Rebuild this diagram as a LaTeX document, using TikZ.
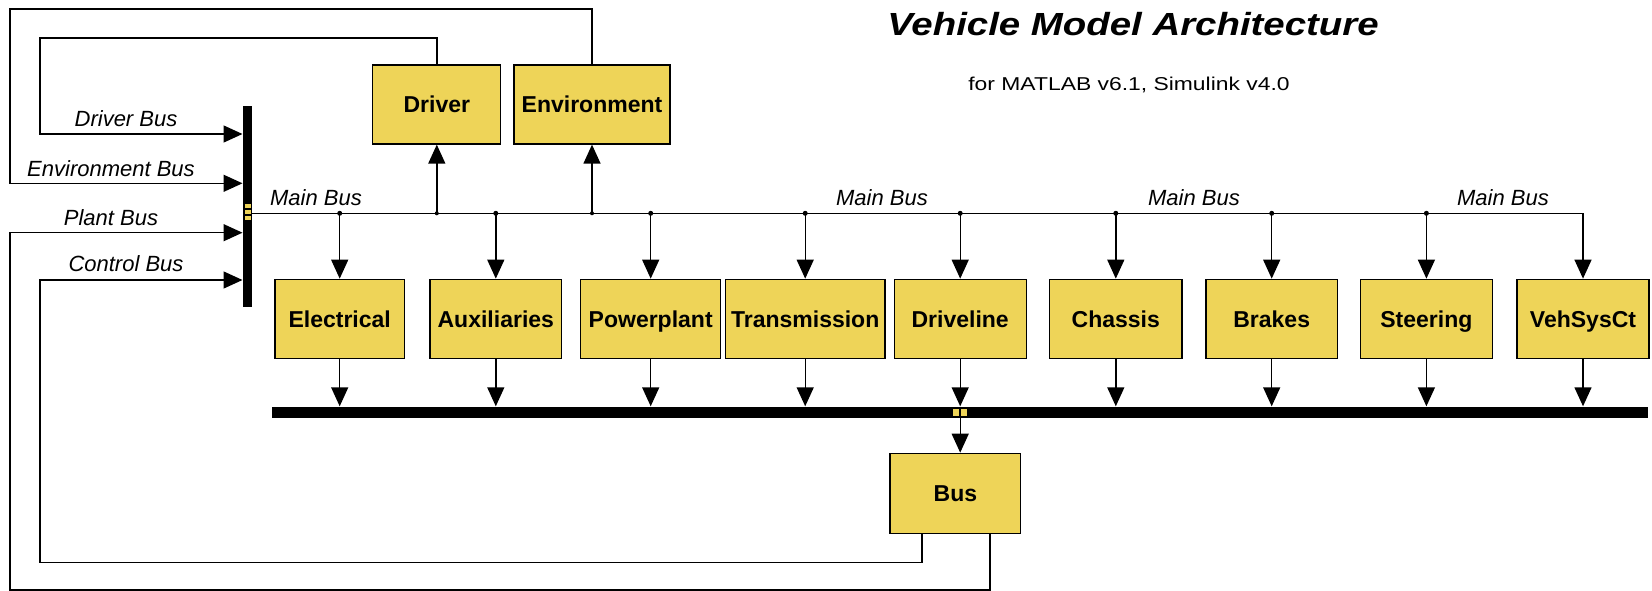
\documentclass[tikz,border=0pt]{standalone}
\usepackage{fontspec}
\setmainfont{Liberation Sans}
\usetikzlibrary{arrows.meta}
\definecolor{blkyellow}{RGB}{238,212,88}
\tikzset{
  blk/.style={draw=black, line width=1.3pt, fill=blkyellow, inner sep=0pt, minimum height=79pt,
    text height=16.5pt, text depth=0pt,
    font=\fontsize{23}{27}\selectfont\bfseries},
  wire/.style={draw=black, line width=1.4pt},
  arr/.style={wire, -{Triangle[length=19pt,width=17pt]}},
  lbl/.style={anchor=base, inner sep=0pt, font=\fontsize{22}{26}\selectfont\itshape},
  bar/.style={fill=black, draw=none, inner sep=0pt},
  jdot/.style={fill=black, draw=none, circle, minimum size=5pt, inner sep=0pt},
  port/.style={fill=blkyellow, draw=none}
}
\begin{document}
\begin{tikzpicture}[x=1pt,y=-1pt]
\useasboundingbox[fill=white] (0,0) rectangle (1652,591);

% title
\node[anchor=base, inner sep=0pt] (title) at (1133,36)
  {\scalebox{1.2}[1]{\fontsize{32}{38}\selectfont\bfseries\itshape Vehicle Model Architecture}};
\node[anchor=base, inner sep=0pt] (subtitle) at (1129,90.5)
  {\scalebox{1.23}[1]{\fontsize{18.6}{22}\selectfont for MATLAB v6.1, Simulink v4.0}};

% top blocks
\node[blk, minimum width=128pt] (Driver) at (436.8,104.5) {Driver};
\node[blk, minimum width=156pt] (Environment) at (592,104.5) {Environment};

% row of blocks
\node[blk, minimum width=129.3pt] (Electrical) at (339.7,318.8) {Electrical};
\node[blk, minimum width=131.7pt] (Auxiliaries) at (495.8,318.8) {Auxiliaries};
\node[blk, minimum width=140pt] (Powerplant) at (650.7,318.8) {Powerplant};
\node[blk, minimum width=159.5pt] (Transmission) at (805.2,318.8) {Transmission};
\node[blk, minimum width=132pt] (Driveline) at (960.2,318.8) {Driveline};
\node[blk, minimum width=132.4pt] (Chassis) at (1115.8,318.8) {Chassis};
\node[blk, minimum width=131.4pt] (Brakes) at (1271.7,318.8) {Brakes};
\node[blk, minimum width=132pt] (Steering) at (1426.4,318.8) {Steering};
\node[blk, minimum width=132pt] (VehSysCt) at (1583,318.8) {VehSysCt};

\node[blk, minimum width=130.7pt, minimum height=80pt] (Bus) at (955.4,493.3) {Bus};

% bus bars
\node[bar, minimum width=9pt, minimum height=201pt] (mux) at (247.8,206.5) {};
\node[bar, minimum width=1376pt, minimum height=11pt] (busbar) at (960,412) {};
\fill[port] (245,204) rectangle (250.6,208.4);
\fill[port] (245,209.8) rectangle (250.6,214.2);
\fill[port] (245,215.6) rectangle (250.6,220);
\fill[port] (953,409) rectangle (959.2,415.5);
\fill[port] (961,409) rectangle (967.2,415.5);

% coordinates
\coordinate (mbL) at (252.3,213.3);
\coordinate (pD) at (242.5,134);
\coordinate (pE) at (242.5,183.3);
\coordinate (pP) at (242.5,232.7);
\coordinate (pC) at (242.5,280);
\coordinate (dTop) at (40,38);
\coordinate (eTop) at (10,9);
\coordinate (cBot) at (40,562.3);
\coordinate (pBot) at (10,589.8);
\coordinate (bo1) at (922,533.3);
\coordinate (bo2) at (990,533.3);

% main bus
\draw[arr] (mbL) -| (VehSysCt.north);
\foreach \b in {Electrical,Auxiliaries,Powerplant,Transmission,Driveline,Chassis,Brakes,Steering}{
  \node[jdot] at (\b.north |- mbL) {};
  \draw[arr] (\b.north |- mbL) -- (\b.north);
}
\foreach \b in {Driver,Environment}{
  \node[jdot, minimum size=4pt] at (\b.south |- mbL) {};
  \draw[arr] (\b.south |- mbL) -- (\b.south);
}
% outputs to bottom bus bar
\foreach \b in {Electrical,Auxiliaries,Powerplant,Transmission,Driveline,Chassis,Brakes,Steering,VehSysCt}{
  \draw[arr] (\b.south) -- (\b.south |- busbar.north);
}
\draw[arr] (Driveline.south |- busbar.south) -- (Driveline.south |- Bus.north);

% feedback loops
\draw[arr] (Driver.north) |- (dTop) |- (pD);
\draw[arr] (Environment.north) |- (eTop) |- (pE);
\draw[arr] (bo2) |- (pBot) |- (pP);
\draw[arr] (bo1) |- (cBot) |- (pC);

% labels
\node[lbl] (lD) at (126,126.7) {Driver Bus};
\node[lbl] (lE) at (111,176) {Environment Bus};
\node[lbl] (lP) at (111,225) {Plant Bus};
\node[lbl] (lC) at (126,271.7) {Control Bus};
\node[lbl] (m1) at (316,205) {Main Bus};
\node[lbl] (m2) at (882,205) {Main Bus};
\node[lbl] (m3) at (1194,205) {Main Bus};
\node[lbl] (m4) at (1503,205) {Main Bus};
\end{tikzpicture}
\end{document}
